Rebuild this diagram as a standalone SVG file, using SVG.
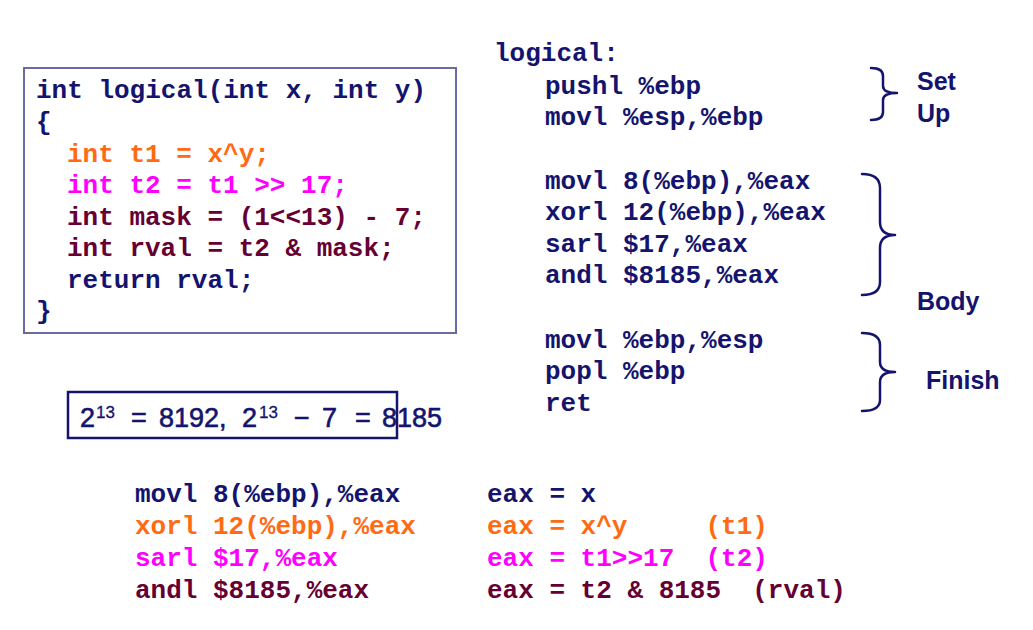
<svg xmlns="http://www.w3.org/2000/svg" width="1033" height="630" viewBox="0 0 1033 630">
<style>
.c{font-family:"Liberation Mono","Courier New",monospace;font-weight:bold;font-size:26px;white-space:pre}
.n{fill:#14146e}.o{fill:#ff6a13}.m{fill:#ff00ff}.r{fill:#660033}
.l{font-family:"Liberation Sans",Arial,sans-serif;font-weight:bold;font-size:25px;fill:#14146e}
.f{font-family:"Liberation Sans",Arial,sans-serif;font-size:27px;fill:#14146e;stroke:#14146e;stroke-width:0.6}
.s{font-size:17px;stroke-width:0.3}
.br{fill:none;stroke:#14146e;stroke-width:2.5;stroke-linecap:round;stroke-linejoin:round}
</style>
<rect width="1033" height="630" fill="#fff"/>
<g id="c-code">
<rect x="24" y="68" width="432" height="265" fill="none" stroke="#6a6aa6" stroke-width="2"/>
<text class="c n" x="36" y="98">int logical(int x, int y)</text>
<text class="c n" x="36" y="130">{</text>
<text class="c o" x="67" y="162">int t1 = x^y;</text>
<text class="c m" x="67" y="193">int t2 = t1 &gt;&gt; 17;</text>
<text class="c r" x="67" y="225">int mask = (1&lt;&lt;13) - 7;</text>
<text class="c r" x="67" y="256">int rval = t2 &amp; mask;</text>
<text class="c n" x="67" y="288">return rval;</text>
<text class="c n" x="36" y="319">}</text>
</g>
<g id="asm">
<text class="c n" x="494" y="61">logical:</text>
<text class="c n" x="545" y="94">pushl %ebp</text>
<text class="c n" x="545" y="125">movl %esp,%ebp</text>
<text class="c n" x="545" y="189">movl 8(%ebp),%eax</text>
<text class="c n" x="545" y="220">xorl 12(%ebp),%eax</text>
<text class="c n" x="545" y="252">sarl $17,%eax</text>
<text class="c n" x="545" y="283">andl $8185,%eax</text>
<text class="c n" x="545" y="348">movl %ebp,%esp</text>
<text class="c n" x="545" y="379">popl %ebp</text>
<text class="c n" x="545" y="411">ret</text>
</g>
<g id="connectors">
<path class="br" d="M871,68 Q883,68 883,76 L883,86 Q883,93 897,93 Q883,93 883,100 L883,112 Q883,120 871,120"/>
<path class="br" d="M862,174 Q880,174 880,188 L880,222 Q880,235 895,235 Q880,235 880,248 L880,282 Q880,295 862,295"/>
<path class="br" d="M862,333 Q880,333 880,345 L880,362 Q880,372 895,372 Q880,372 880,382 L880,400 Q880,411 862,411"/>
</g>
<g id="setup-label"><text class="l" x="917" y="90">Set</text><text class="l" x="917" y="122">Up</text></g>
<g id="body-label"><text class="l" x="917" y="310">Body</text></g>
<g id="finish-label"><text class="l" x="926" y="389">Finish</text></g>
<g id="formula">
<rect x="68" y="392" width="329" height="46" fill="none" stroke="#14146e" stroke-width="2.5"/>
<text class="f" x="80" y="427">2</text><text class="f s" x="96" y="418">13</text>
<text class="f" x="131" y="427">=</text>
<text class="f" x="159" y="427">8192,</text>
<text class="f" x="242" y="427">2</text><text class="f s" x="259" y="418">13</text>
<text class="f" x="294" y="427">−</text>
<text class="f" x="322" y="427">7</text>
<text class="f" x="355" y="427">=</text>
<text class="f" x="382" y="427">8185</text>
</g>
<g id="annotated">
<text class="c n" x="135" y="502">movl 8(%ebp),%eax</text>
<text class="c o" x="135" y="534">xorl 12(%ebp),%eax</text>
<text class="c m" x="135" y="566">sarl $17,%eax</text>
<text class="c r" x="135" y="598">andl $8185,%eax</text>
<text class="c n" x="487" y="502">eax = x</text>
<text class="c o" x="487" y="534">eax = x^y     (t1)</text>
<text class="c m" x="487" y="566">eax = t1&gt;&gt;17  (t2)</text>
<text class="c r" x="487" y="598">eax = t2 &amp; 8185  (rval)</text>
</g>
</svg>
